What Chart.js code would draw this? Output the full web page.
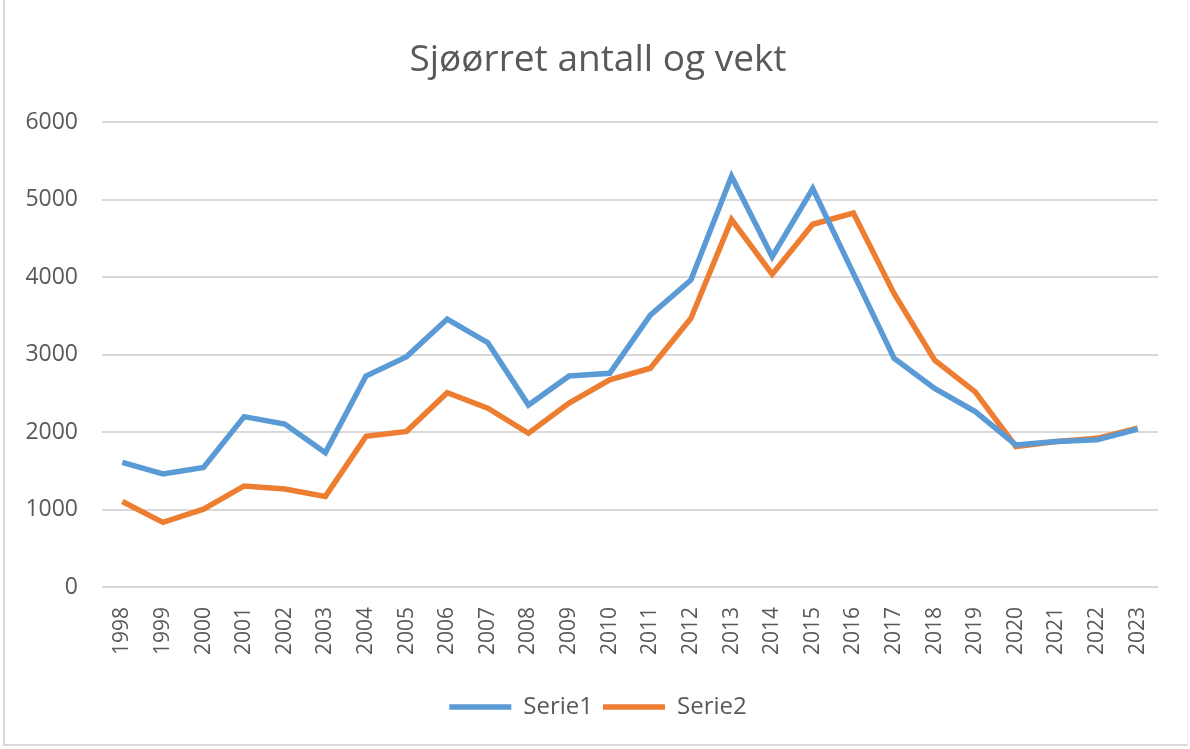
<!DOCTYPE html>
<html>
<head>
<meta charset="utf-8">
<script src="https://cdn.jsdelivr.net/npm/chart.js@4"></script>
<style>
  html, body { margin: 0; padding: 0; background: #fff; }
  #wrap { position: relative; width: 1190px; height: 749px; }
  #ramme { position: absolute; left: 3px; top: 0; width: 1182px; height: 744px;
           border-left: 2px solid #d9d9d9; border-bottom: 2px solid #d9d9d9; border-right: 1px solid #eee; }
</style>
</head>
<body>
<div id="wrap">
  <div id="ramme"></div>
  <canvas id="chartSjoorret" width="1190" height="749"></canvas>
</div>
<script>
// Data lest av bildet
const aar = ["1998", "1999", "2000", "2001", "2002", "2003", "2004", "2005", "2006",
  "2007", "2008", "2009", "2010", "2011", "2012", "2013", "2014", "2015", "2016",
  "2017", "2018", "2019", "2020", "2021", "2022", "2023"];

const serie1 = [1610, 1460, 1545, 2200, 2105, 1735, 2725, 2975, 3460, 3155, 2350,
  2725, 2760, 3510, 3965, 5305, 4265, 5145, 4050, 2955, 2565, 2265, 1835, 1880,
  1900, 2040];

const serie2 = [1105, 835, 1005, 1305, 1265, 1170, 1945, 2010, 2510, 2310, 1985,
  2375, 2675, 2825, 3470, 4745, 4040, 4685, 4830, 3790, 2930, 2520, 1815, 1880,
  1920, 2050];

const yTicks = [0, 1000, 2000, 3000, 4000, 5000, 6000];

const tekstFarge = "#595959";
const fontFamilie = "'Open Sans', 'Liberation Sans', sans-serif";

// y-etikettene får tegnes helt ut til venstre kant, tittelen holdes sentrert som i originalen
const utvidYEtiketter = {
  id: "utvidYEtiketter",
  afterLayout(chart) {
    chart.scales.y.left = 0;
  },
};

const contexto = document.getElementById("chartSjoorret").getContext("2d");

new Chart(contexto, {
  type: "line",
  data: {
    labels: aar,
    datasets: [
      {
        label: "Serie1",
        data: serie1,
        borderColor: "#5B9BD5",
        backgroundColor: "#5B9BD5",
        borderWidth: 5.5,
        pointRadius: 0,
        tension: 0,
      },
      {
        label: "Serie2",
        data: serie2,
        borderColor: "#ED7D31",
        backgroundColor: "#ED7D31",
        borderWidth: 5.5,
        pointRadius: 0,
        tension: 0,
      },
    ],
  },
  plugins: [utvidYEtiketter],
  options: {
    responsive: false,
    animation: false,
    layout: {
      padding: { left: 38, right: 32, top: 38, bottom: 20 },
    },
    plugins: {
      title: {
        display: true,
        text: "Sjøørret antall og vekt",
        color: tekstFarge,
        font: { family: fontFamilie, size: 37, weight: "normal" },
        padding: { top: 0, bottom: 40 },
      },
      legend: {
        position: "bottom",
        labels: {
          usePointStyle: true,
          pointStyle: "line",
          pointStyleWidth: 62,
          color: tekstFarge,
          font: { family: fontFamilie, size: 24 },
          padding: 10,
        },
      },
      tooltip: { enabled: false },
    },
    scales: {
      x: {
        offset: true,
        grid: { display: false },
        border: { display: false },
        afterFit: (axis) => {
          axis.height = 98;
        },
        ticks: {
          color: tekstFarge,
          minRotation: 90,
          maxRotation: 90,
          autoSkip: false,
          font: { family: fontFamilie, size: 21 },
          padding: 12,
        },
      },
      y: {
        min: 0,
        max: 6000,
        afterBuildTicks: (axis) => {
          axis.ticks = yTicks.map((v) => ({ value: v }));
        },
        afterFit: (axis) => {
          axis.width = 64;
        },
        grid: { color: "#d9d9d9", lineWidth: 2, drawTicks: false },
        border: { display: false },
        ticks: {
          color: tekstFarge,
          font: { family: fontFamilie, size: 23 },
          padding: 24,
          callback: (v) => String(v),
        },
      },
    },
  },
});
</script>
</body>
</html>
